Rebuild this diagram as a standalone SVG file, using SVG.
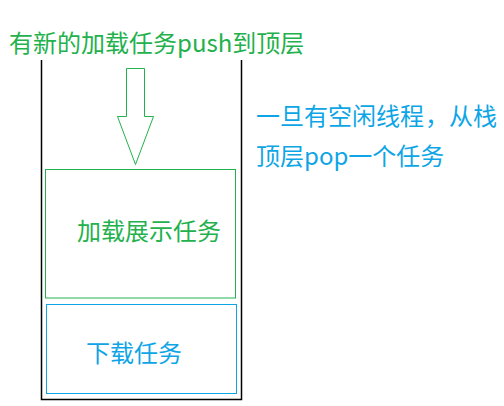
<svg xmlns="http://www.w3.org/2000/svg" width="504" height="406" viewBox="0 0 504 406">
<style>
.t{font-family:"Noto Sans CJK SC","Noto Sans",sans-serif;font-size:24px}
.g{fill:#22b14c}
.b{fill:#0ea5e6}
</style>
<rect width="504" height="406" fill="#fff"/>
<g id="container">
<polyline points="41.5,60 41.5,399.5 241.5,399.5 241.5,60" fill="none" stroke="#000" stroke-width="1.5"/>
</g>
<g id="connectors">
<polygon points="126.5,68.5 144.5,68.5 144.5,116.5 153.5,116.5 135.5,164.5 117.5,116.5 126.5,116.5" fill="none" stroke="#22b14c" stroke-width="1"/>
</g>
<g id="title">
<text class="t g" x="9" y="52">有新的加载任务push到顶层</text>
</g>
<g id="load-task">
<rect x="45.5" y="169.5" width="190" height="128.5" fill="none" stroke="#22b14c" stroke-width="1"/>
<text class="t g" x="77" y="240">加载展示任务</text>
</g>
<g id="download-task">
<rect x="46.5" y="304.5" width="190" height="89" fill="none" stroke="#0ea5e6" stroke-width="1"/>
<text class="t b" x="86" y="362">下载任务</text>
</g>
<g id="note">
<text class="t b" y="125"><tspan x="256">一旦有空闲线程</tspan><tspan x="425">，</tspan><tspan x="449">从栈</tspan></text>
<text class="t b" x="256" y="165">顶层pop一个任务</text>
</g>
</svg>
